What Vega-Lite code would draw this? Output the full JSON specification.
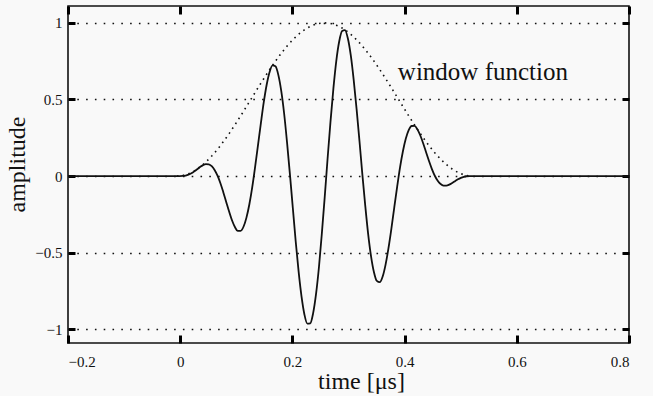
{
  "$schema": "https://vega.github.io/schema/vega-lite/v6.json",
  "width": 561,
  "height": 337,
  "autosize": "none",
  "padding": {"left": 68, "top": 6, "right": 24, "bottom": 53},
  "background": "#f9f9f9",
  "config": {
    "font": "Liberation Serif",
    "view": {"stroke": "#111", "strokeWidth": 1.6},
    "axis": {
      "domain": false,
      "labelColor": "#111",
      "labelFont": "Liberation Serif",
      "labelFontSize": 15,
      "titleFont": "Liberation Serif",
      "titleFontWeight": "normal",
      "titleColor": "#111",
      "titleFontSize": 24
    }
  },
  "datasets": {
    "pulse": [
      {"t": -0.2, "s": 0},
      {"t": -0.0058, "s": 0, "w": 0},
      {"t": -0.0007, "s": -0.0001, "w": 0.001},
      {"t": 0.0045, "s": 0.0004, "w": 0.0038},
      {"t": 0.0097, "s": 0.003, "w": 0.0085},
      {"t": 0.0148, "s": 0.0087, "w": 0.0151},
      {"t": 0.02, "s": 0.0179, "w": 0.0235},
      {"t": 0.0252, "s": 0.0304, "w": 0.0338},
      {"t": 0.0303, "s": 0.0448, "w": 0.0458},
      {"t": 0.0355, "s": 0.0594, "w": 0.0595},
      {"t": 0.0407, "s": 0.0715, "w": 0.0749},
      {"t": 0.0458, "s": 0.0782, "w": 0.0919},
      {"t": 0.051, "s": 0.0767, "w": 0.1105},
      {"t": 0.0562, "s": 0.0643, "w": 0.1305},
      {"t": 0.0613, "s": 0.0396, "w": 0.1519},
      {"t": 0.0665, "s": 0.0022, "w": 0.1746},
      {"t": 0.0717, "s": -0.047, "w": 0.1987},
      {"t": 0.0768, "s": -0.1053, "w": 0.2237},
      {"t": 0.082, "s": -0.1688, "w": 0.25},
      {"t": 0.0872, "s": -0.2321, "w": 0.2771},
      {"t": 0.0923, "s": -0.289, "w": 0.3051},
      {"t": 0.0975, "s": -0.333, "w": 0.3339},
      {"t": 0.1026, "s": -0.3576, "w": 0.3632},
      {"t": 0.1078, "s": -0.3577, "w": 0.393},
      {"t": 0.113, "s": -0.3294, "w": 0.4233},
      {"t": 0.1181, "s": -0.2714, "w": 0.4539},
      {"t": 0.1233, "s": -0.1841, "w": 0.4847},
      {"t": 0.1285, "s": -0.071, "w": 0.5154},
      {"t": 0.1336, "s": 0.0616, "w": 0.5461},
      {"t": 0.1388, "s": 0.2055, "w": 0.5767},
      {"t": 0.144, "s": 0.3506, "w": 0.607},
      {"t": 0.1491, "s": 0.4854, "w": 0.6368},
      {"t": 0.1543, "s": 0.5992, "w": 0.6662},
      {"t": 0.1595, "s": 0.6811, "w": 0.6951},
      {"t": 0.1646, "s": 0.7221, "w": 0.723},
      {"t": 0.1698, "s": 0.7162, "w": 0.75},
      {"t": 0.1749, "s": 0.6606, "w": 0.7762},
      {"t": 0.1801, "s": 0.5558, "w": 0.8014},
      {"t": 0.1853, "s": 0.4067, "w": 0.8254},
      {"t": 0.1904, "s": 0.2212, "w": 0.8482},
      {"t": 0.1956, "s": 0.011, "w": 0.8696},
      {"t": 0.2008, "s": -0.2104, "w": 0.8897},
      {"t": 0.2059, "s": -0.4275, "w": 0.9082},
      {"t": 0.2111, "s": -0.6246, "w": 0.9251},
      {"t": 0.2163, "s": -0.7877, "w": 0.9405},
      {"t": 0.2214, "s": -0.9036, "w": 0.9541},
      {"t": 0.2266, "s": -0.9636, "w": 0.9663},
      {"t": 0.2318, "s": -0.9615, "w": 0.9765},
      {"t": 0.2369, "s": -0.8964, "w": 0.9849},
      {"t": 0.2421, "s": -0.7715, "w": 0.9914},
      {"t": 0.2473, "s": -0.5956, "w": 0.9962},
      {"t": 0.2524, "s": -0.3795, "w": 0.9991},
      {"t": 0.2576, "s": -0.1378, "w": 1},
      {"t": 0.2627, "s": 0.1128, "w": 0.9991},
      {"t": 0.2679, "s": 0.355, "w": 0.9962},
      {"t": 0.2731, "s": 0.5726, "w": 0.9914},
      {"t": 0.2782, "s": 0.7508, "w": 0.9849},
      {"t": 0.2834, "s": 0.8784, "w": 0.9765},
      {"t": 0.2886, "s": 0.9469, "w": 0.9663},
      {"t": 0.2937, "s": 0.9529, "w": 0.9541},
      {"t": 0.2989, "s": 0.8981, "w": 0.9405},
      {"t": 0.3041, "s": 0.7873, "w": 0.9251},
      {"t": 0.3092, "s": 0.6299, "w": 0.9082},
      {"t": 0.3144, "s": 0.4384, "w": 0.8897},
      {"t": 0.3196, "s": 0.2268, "w": 0.8696},
      {"t": 0.3247, "s": 0.0107, "w": 0.8482},
      {"t": 0.3299, "s": -0.1952, "w": 0.8254},
      {"t": 0.335, "s": -0.3772, "w": 0.8014},
      {"t": 0.3402, "s": -0.5241, "w": 0.7762},
      {"t": 0.3454, "s": -0.6281, "w": 0.75},
      {"t": 0.3505, "s": -0.6848, "w": 0.723},
      {"t": 0.3557, "s": -0.6932, "w": 0.6951},
      {"t": 0.3609, "s": -0.6559, "w": 0.6662},
      {"t": 0.366, "s": -0.5796, "w": 0.6368},
      {"t": 0.3712, "s": -0.4724, "w": 0.607},
      {"t": 0.3764, "s": -0.3448, "w": 0.5767},
      {"t": 0.3815, "s": -0.2074, "w": 0.5461},
      {"t": 0.3867, "s": -0.071, "w": 0.5154},
      {"t": 0.3918, "s": 0.0547, "w": 0.4847},
      {"t": 0.397, "s": 0.1618, "w": 0.4539},
      {"t": 0.4022, "s": 0.2445, "w": 0.4233},
      {"t": 0.4073, "s": 0.2996, "w": 0.393},
      {"t": 0.4125, "s": 0.3267, "w": 0.3632},
      {"t": 0.4177, "s": 0.3272, "w": 0.3339},
      {"t": 0.4228, "s": 0.3047, "w": 0.3051},
      {"t": 0.428, "s": 0.2646, "w": 0.2771},
      {"t": 0.4332, "s": 0.2128, "w": 0.25},
      {"t": 0.4383, "s": 0.1552, "w": 0.2237},
      {"t": 0.4435, "s": 0.0979, "w": 0.1987},
      {"t": 0.4487, "s": 0.0455, "w": 0.1746},
      {"t": 0.4538, "s": 0.0019, "w": 0.1519},
      {"t": 0.459, "s": -0.0309, "w": 0.1305},
      {"t": 0.4642, "s": -0.052, "w": 0.1105},
      {"t": 0.4693, "s": -0.0621, "w": 0.0919},
      {"t": 0.4745, "s": -0.0627, "w": 0.0749},
      {"t": 0.4796, "s": -0.0564, "w": 0.0595},
      {"t": 0.4848, "s": -0.0457, "w": 0.0458},
      {"t": 0.49, "s": -0.0333, "w": 0.0338},
      {"t": 0.4951, "s": -0.0214, "w": 0.0235},
      {"t": 0.5003, "s": -0.0118, "w": 0.0151},
      {"t": 0.5055, "s": -0.0051, "w": 0.0085},
      {"t": 0.5106, "s": -0.0014, "w": 0.0038},
      {"t": 0.5158, "s": 0, "w": 0.001},
      {"t": 0.521, "s": 0, "w": 0},
      {"t": 0.8, "s": 0}
    ],
    "note": [{"t": 0.388, "y": 0.68, "label": "window function"}]
  },
  "resolve": {"axis": {"x": "independent", "y": "independent"}},
  "layer": [
    {
      "mark": {"type": "rule", "stroke": "#111", "strokeWidth": 1.6, "strokeDash": [1.6, 6.4]},
      "encoding": {
        "x": {"datum": 0, "type": "quantitative", "axis": null,
              "scale": {"domain": [-0.2, 0.8], "nice": false, "zero": false}}
      }
    },
    {
      "data": {"name": "pulse"},
      "mark": {"type": "line", "stroke": "#111", "strokeWidth": 1.8, "interpolate": "monotone"},
      "encoding": {
        "x": {"field": "t", "type": "quantitative",
              "scale": {"domain": [-0.2, 0.8], "nice": false, "zero": false},
              "axis": {"orient": "bottom", "title": "time [μs]", "values": [-0.2, 0, 0.2, 0.4, 0.6, 0.8],
                       "format": ".1~f", "ticks": true, "tickColor": "black", "tickWidth": 3, "tickSize": -8,
                       "labelPadding": 19, "titlePadding": 0, "titleX": 293, "grid": false}},
        "y": {"field": "s", "type": "quantitative",
              "scale": {"domain": [-1.09, 1.11], "nice": false, "zero": false},
              "axis": {"orient": "left", "title": "amplitude", "values": [-1, -0.5, 0, 0.5, 1],
                       "format": ".1~f", "ticks": true, "tickColor": "black", "tickWidth": 3, "tickSize": -7,
                       "labelPadding": 13, "titlePadding": 5, "titleY": 158,
                       "grid": true, "gridColor": "#111", "gridWidth": 1.6, "gridDash": [1.6, 7.2]}}
      }
    },
    {
      "data": {"name": "pulse"},
      "mark": {"type": "line", "stroke": "#111", "strokeWidth": 1.6, "strokeDash": [1.6, 4.2]},
      "encoding": {
        "x": {"field": "t", "type": "quantitative",
              "scale": {"domain": [-0.2, 0.8], "nice": false, "zero": false},
              "axis": {"orient": "top", "title": null, "labels": false, "ticks": true, "tickColor": "black", "tickWidth": 3, "tickSize": -8,
                       "values": [-0.2, 0, 0.2, 0.4, 0.6, 0.8], "grid": false}},
        "y": {"field": "w", "type": "quantitative",
              "scale": {"domain": [-1.09, 1.11], "nice": false, "zero": false},
              "axis": {"orient": "right", "title": null, "labels": false, "ticks": true, "tickColor": "black", "tickWidth": 3, "tickSize": -7,
                       "values": [-1, -0.5, 0, 0.5, 1], "grid": false}}
      }
    },
    {
      "data": {"name": "note"},
      "mark": {"type": "text", "align": "left", "baseline": "middle", "fontSize": 25, "font": "Liberation Serif", "color": "#111"},
      "encoding": {
        "x": {"field": "t", "type": "quantitative", "axis": null,
              "scale": {"domain": [-0.2, 0.8], "nice": false, "zero": false}},
        "y": {"field": "y", "type": "quantitative", "axis": null,
              "scale": {"domain": [-1.09, 1.11], "nice": false, "zero": false}},
        "text": {"field": "label"}
      }
    }
  ]
}
